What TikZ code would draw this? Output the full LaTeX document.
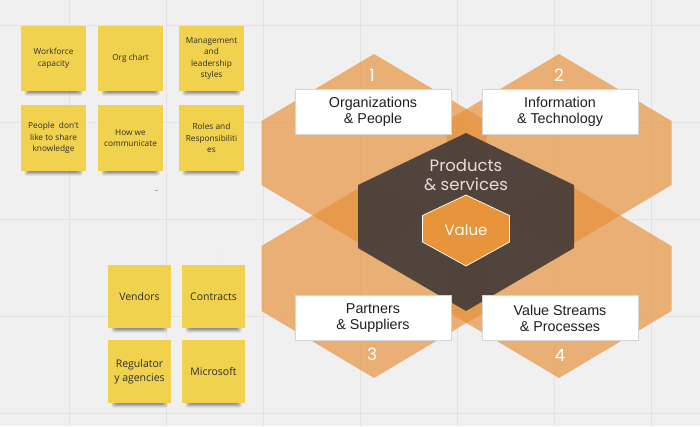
\documentclass[tikz,border=0pt]{standalone}
\usepackage{fontspec}
\setmainfont{Liberation Sans}
\newfontfamily\notefont{Open Sans}
\newfontfamily\geofont{Poppins}
\definecolor{bgc}{HTML}{F0F0F0}
\definecolor{gridc}{HTML}{E2E2E2}
\definecolor{orc}{HTML}{E8913A}
\definecolor{darkc}{HTML}{463C39}
\definecolor{valc}{HTML}{E8943A}
\definecolor{notec}{HTML}{F1D24F}
\definecolor{notetxt}{HTML}{2E2E2E}
\definecolor{boxline}{HTML}{D6D6D6}
\definecolor{prodc}{HTML}{E4DFDC}
\tikzset{
  gridline/.style={draw=gridc, line width=1pt},
  orhex/.style={fill=orc, fill opacity=0.68},
  darkhex/.style={fill=darkc, fill opacity=0.93},
  valhex/.style={fill=valc, draw=white, line width=0.7pt},
  note/.style={fill=notec, inner sep=1pt, align=center, text=notetxt},
  smallnote/.style={note, minimum width=65pt, minimum height=65.5pt, font=\notefont\fontsize{8.3}{11.6}\selectfont},
  bignote/.style={note, minimum width=63pt, minimum height=63pt, font=\notefont\fontsize{10.5}{14}\selectfont},
  whitebox/.style={fill=white, draw=boxline, line width=0.6pt, minimum width=156pt, minimum height=45pt, inner sep=0pt, align=center, text=black!88, font=\fontsize{14.3}{16}\selectfont},
  numlabel/.style={text=white, font=\geofont\fontsize{17}{17}\selectfont, inner sep=0pt},
}
\newcommand\nshadow[3]{%
  \foreach \i in {0,1,2,3,4,5}{%
    \fill[black, opacity=0.085, rounded corners=2pt] ({#1+8-\i*0.9},{#3-4}) rectangle ({#2-8+\i*0.9},{#3+0.5+\i*0.8});
  }}
\begin{document}
\begin{tikzpicture}[x=1pt,y=-1pt]
\fill[bgc] (0,0) rectangle (700,426);
\useasboundingbox (0,0) rectangle (700,426);
% grid
\foreach \x in {69,166,...,651} \draw[gridline] (\x,0) -- (\x,426);
\foreach \y in {25,122,...,413} \draw[gridline] (0,\y) -- (700,\y);
% tiny marks
\draw[black!35, line width=0.6pt] (154.5,190.3) -- (157.5,190.3);
\fill[black!30] (218,256) circle (0.4pt);

% sticky notes, top group
\nshadow{21}{86}{91}
\nshadow{98}{163}{91}
\nshadow{179}{244}{91}
\nshadow{21}{86}{171}
\nshadow{98}{163}{171}
\nshadow{179}{244}{171}
\node[smallnote] (n1) at (53.5,58.5) {Workforce\\capacity};
\node[smallnote] (n2) at (130.5,58.5) {Org chart};
\node[smallnote] (n3) at (211.5,58.5) {Management\\and\\leadership\\styles};
\node[smallnote] (n4) at (53.5,138) {People\ \ don't\\like to share\\knowledge};
\node[smallnote] (n5) at (130.5,138) {How we\\communicate};
\node[smallnote] (n6) at (211.5,138) {Roles and\\Responsibiliti\\es};

% sticky notes, bottom group
\nshadow{108}{171}{328}
\nshadow{182}{245}{328}
\nshadow{108}{171}{403}
\nshadow{182}{245}{403}
\node[bignote] (v1) at (139.5,296.5) {Vendors};
\node[bignote] (v2) at (213.5,296.5) {Contracts};
\node[bignote] (v3) at (139.5,371.5) {Regulator\\y agencies};
\node[bignote] (v4) at (213.5,371.5) {Microsoft};

% orange hexagons
\fill[orhex] (374,54) -- (486.5,121) -- (486.5,185) -- (374,252) -- (261.5,185) -- (261.5,121) -- cycle;
\fill[orhex] (559,54) -- (671.5,121) -- (671.5,185) -- (559,252) -- (446.5,185) -- (446.5,121) -- cycle;
\fill[orhex] (374,179) -- (486.5,246) -- (486.5,311) -- (374,378) -- (261.5,311) -- (261.5,246) -- cycle;
\fill[orhex] (559,179) -- (671.5,246) -- (671.5,311) -- (559,378) -- (446.5,311) -- (446.5,246) -- cycle;
% dark hexagon
\fill[darkhex] (466,133) -- (574,185) -- (574,248) -- (466,311) -- (358,248) -- (358,185) -- cycle;
% value hexagon
\filldraw[valhex] (466,195) -- (509.5,215.5) -- (509.5,242) -- (466,266) -- (422.5,242) -- (422.5,215.5) -- cycle;

\node[text=prodc, align=center, font=\geofont\fontsize{16.5}{18.5}\selectfont] (prod) at (466,175) {Products\\\& services};
\node[text=white!95!orange, font=\geofont\fontsize{15}{15}\selectfont] (val) at (466,230) {Value};

% white boxes
\node[whitebox] (b1) at (373,111.5) {Organizations\\\& People};
\node[whitebox] (b2) at (560,111.5) {Information\\\& Technology};
\node[whitebox] (b3) at (373,318) {Partners\\\& Suppliers};
\node[whitebox] (b4) at (560,318) {Value Streams\\\& Processes};

% numbers
\node[numlabel] (k1) at (372,75) {1};
\node[numlabel] (k2) at (559,75) {2};
\node[numlabel] (k3) at (372,354) {3};
\node[numlabel] (k4) at (560,355) {4};
\end{tikzpicture}
\end{document}
